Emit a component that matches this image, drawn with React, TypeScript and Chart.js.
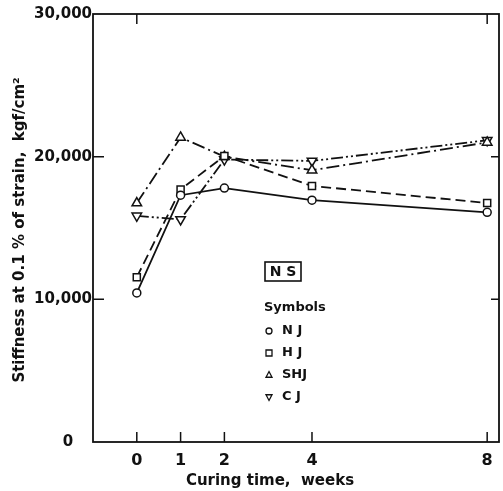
import React, { useEffect, useRef } from "react";
import { Chart, registerables } from "chart.js";

Chart.register(...registerables);

// Curing time (weeks) and stiffness at 0.1 % strain (kgf/cm²) for each joint type
const weeks = [0, 1, 2, 4, 8];
const njValues = [10450, 17300, 17800, 16950, 16100];
const hjValues = [11550, 17700, 20050, 17950, 16750];
const shjValues = [16750, 21350, 20000, 19050, 21000];
const cjValues = [15850, 15600, 19800, 19700, 21150];

const seriesNames = ["N J", "H J", "SHJ", "C J"];
const xTickValues = [0, 1, 2, 4, 8];
const xTickLabels = ["0", "1", "2", "4", "8"];
const yTickValues = [0, 10000, 20000, 30000];
const yTickLabels = ["0", "10,000", "20,000", "30,000"];

const xTitle = "Curing time,  weeks";
const yTitle = "Stiffness at 0.1 % of strain,  kgf/cm²";
const boxLabel = "N S";
const legendTitle = "Symbols";

const FONT = '"DejaVu Sans", sans-serif';
const INK = "#111";

type Marker = "circle" | "rect" | "triangle" | "down";
const markers: Marker[] = ["circle", "rect", "triangle", "down"];

function drawMarker(ctx: CanvasRenderingContext2D, kind: Marker, x: number, y: number, r: number) {
  ctx.beginPath();
  if (kind === "circle") {
    ctx.arc(x, y, r, 0, Math.PI * 2);
  } else if (kind === "rect") {
    ctx.rect(x - r, y - r, 2 * r, 2 * r);
  } else if (kind === "triangle") {
    ctx.moveTo(x, y - r * 1.15);
    ctx.lineTo(x + r, y + r * 0.75);
    ctx.lineTo(x - r, y + r * 0.75);
    ctx.closePath();
  } else {
    ctx.moveTo(x, y + r * 1.15);
    ctx.lineTo(x + r, y - r * 0.75);
    ctx.lineTo(x - r, y - r * 0.75);
    ctx.closePath();
  }
  ctx.fillStyle = "#fff";
  ctx.fill();
  ctx.stroke();
}

const framePlugin = {
  id: "frame",
  afterDraw(chart: any) {
    const { ctx, chartArea: a, scales } = chart;
    const xs = scales.x;
    const ys = scales.y;
    ctx.save();
    ctx.strokeStyle = INK;
    ctx.fillStyle = INK;
    ctx.lineWidth = 1.8;
    ctx.strokeRect(a.left, a.top, a.right - a.left, a.bottom - a.top);

    // inward ticks
    ctx.lineWidth = 1.5;
    ctx.beginPath();
    xTickValues.forEach((v) => {
      const px = xs.getPixelForValue(v);
      ctx.moveTo(px, a.bottom);
      ctx.lineTo(px, a.bottom - 10);
    });
    [0, 8].forEach((v) => {
      const px = xs.getPixelForValue(v);
      ctx.moveTo(px, a.top);
      ctx.lineTo(px, a.top + 10);
    });
    yTickValues.forEach((v) => {
      if (v === 0 || v === 30000) return;
      const py = ys.getPixelForValue(v);
      ctx.moveTo(a.left, py);
      ctx.lineTo(a.left + 11, py);
      ctx.moveTo(a.right, py);
      ctx.lineTo(a.right - 8, py);
    });
    ctx.stroke();

    // tick labels
    ctx.font = `bold 15px ${FONT}`;
    ctx.textBaseline = "middle";
    yTickValues.forEach((v, i) => {
      const py = ys.getPixelForValue(v);
      if (v === 0) {
        ctx.textAlign = "center";
        ctx.fillText(yTickLabels[i], 68, py);
      } else {
        ctx.textAlign = "right";
        ctx.fillText(yTickLabels[i], a.left - 1, py);
      }
    });
    ctx.textAlign = "center";
    ctx.font = `bold 16px ${FONT}`;
    xTickValues.forEach((v, i) => {
      ctx.fillText(xTickLabels[i], xs.getPixelForValue(v), a.bottom + 19);
    });

    // axis titles
    ctx.font = `bold 15px ${FONT}`;
    ctx.fillText(xTitle, 270, a.bottom + 39);
    ctx.save();
    ctx.translate(20, 230);
    ctx.rotate(-Math.PI / 2);
    ctx.font = `bold 15px ${FONT}`;
    ctx.fillText(yTitle, 0, 0);
    ctx.restore();

    // boxed note
    ctx.lineWidth = 1.6;
    ctx.strokeRect(265, 262, 36, 19);
    ctx.font = `bold 14px ${FONT}`;
    ctx.fillText(boxLabel, 283, 272);

    // symbol key
    ctx.textAlign = "left";
    ctx.font = `bold 13px ${FONT}`;
    ctx.fillText(legendTitle, 264, 308);
    ctx.lineWidth = 1.3;
    seriesNames.forEach((name, i) => {
      const y = 331 + i * 22;
      drawMarker(ctx, markers[i], 269, y, 3);
      ctx.fillStyle = INK;
      ctx.fillText(name, 282, y);
    });
    ctx.restore();
  },
};

function toPoints(values: number[]) {
  return weeks.map((w, i) => ({ x: w, y: values[i] }));
}

export default function App() {
  const canvasRef = useRef<HTMLCanvasElement | null>(null);

  useEffect(() => {
    if (!canvasRef.current) return;
    const common = {
      borderColor: INK,
      pointBackgroundColor: "#fff",
      pointBorderColor: INK,
      pointBorderWidth: 1.5,
      borderWidth: 1.8,
      tension: 0,
      fill: false,
    };
    const chart = new Chart(canvasRef.current, {
      type: "line",
      data: {
        datasets: [
          { ...common, label: seriesNames[0], data: toPoints(njValues), pointStyle: "circle", pointRadius: 4 },
          { ...common, label: seriesNames[1], data: toPoints(hjValues), pointStyle: "rect", pointRadius: 5, borderDash: [10, 5] },
          { ...common, label: seriesNames[2], data: toPoints(shjValues), pointStyle: "triangle", pointRadius: 5.5, borderDash: [13, 4, 2, 4] },
          { ...common, label: seriesNames[3], data: toPoints(cjValues), pointStyle: "triangle", pointRotation: 180, pointRadius: 5.5, borderDash: [12, 3, 2, 3, 2, 3] },
        ] as any,
      },
      options: {
        animation: false,
        responsive: true,
        maintainAspectRatio: false,
        layout: { autoPadding: false, padding: { left: 93, top: 14, right: 4, bottom: 49 } },
        scales: {
          x: { type: "linear", min: -1, max: 8.27, display: false },
          y: { type: "linear", min: 0, max: 30000, display: false },
        },
        plugins: { legend: { display: false }, tooltip: { enabled: false } },
      },
      plugins: [framePlugin],
    });
    return () => chart.destroy();
  }, []);

  return (
    <div style={{ position: "fixed", left: 0, top: 0, width: 503, height: 491, background: "#fff" }}>
      <canvas ref={canvasRef} />
    </div>
  );
}
